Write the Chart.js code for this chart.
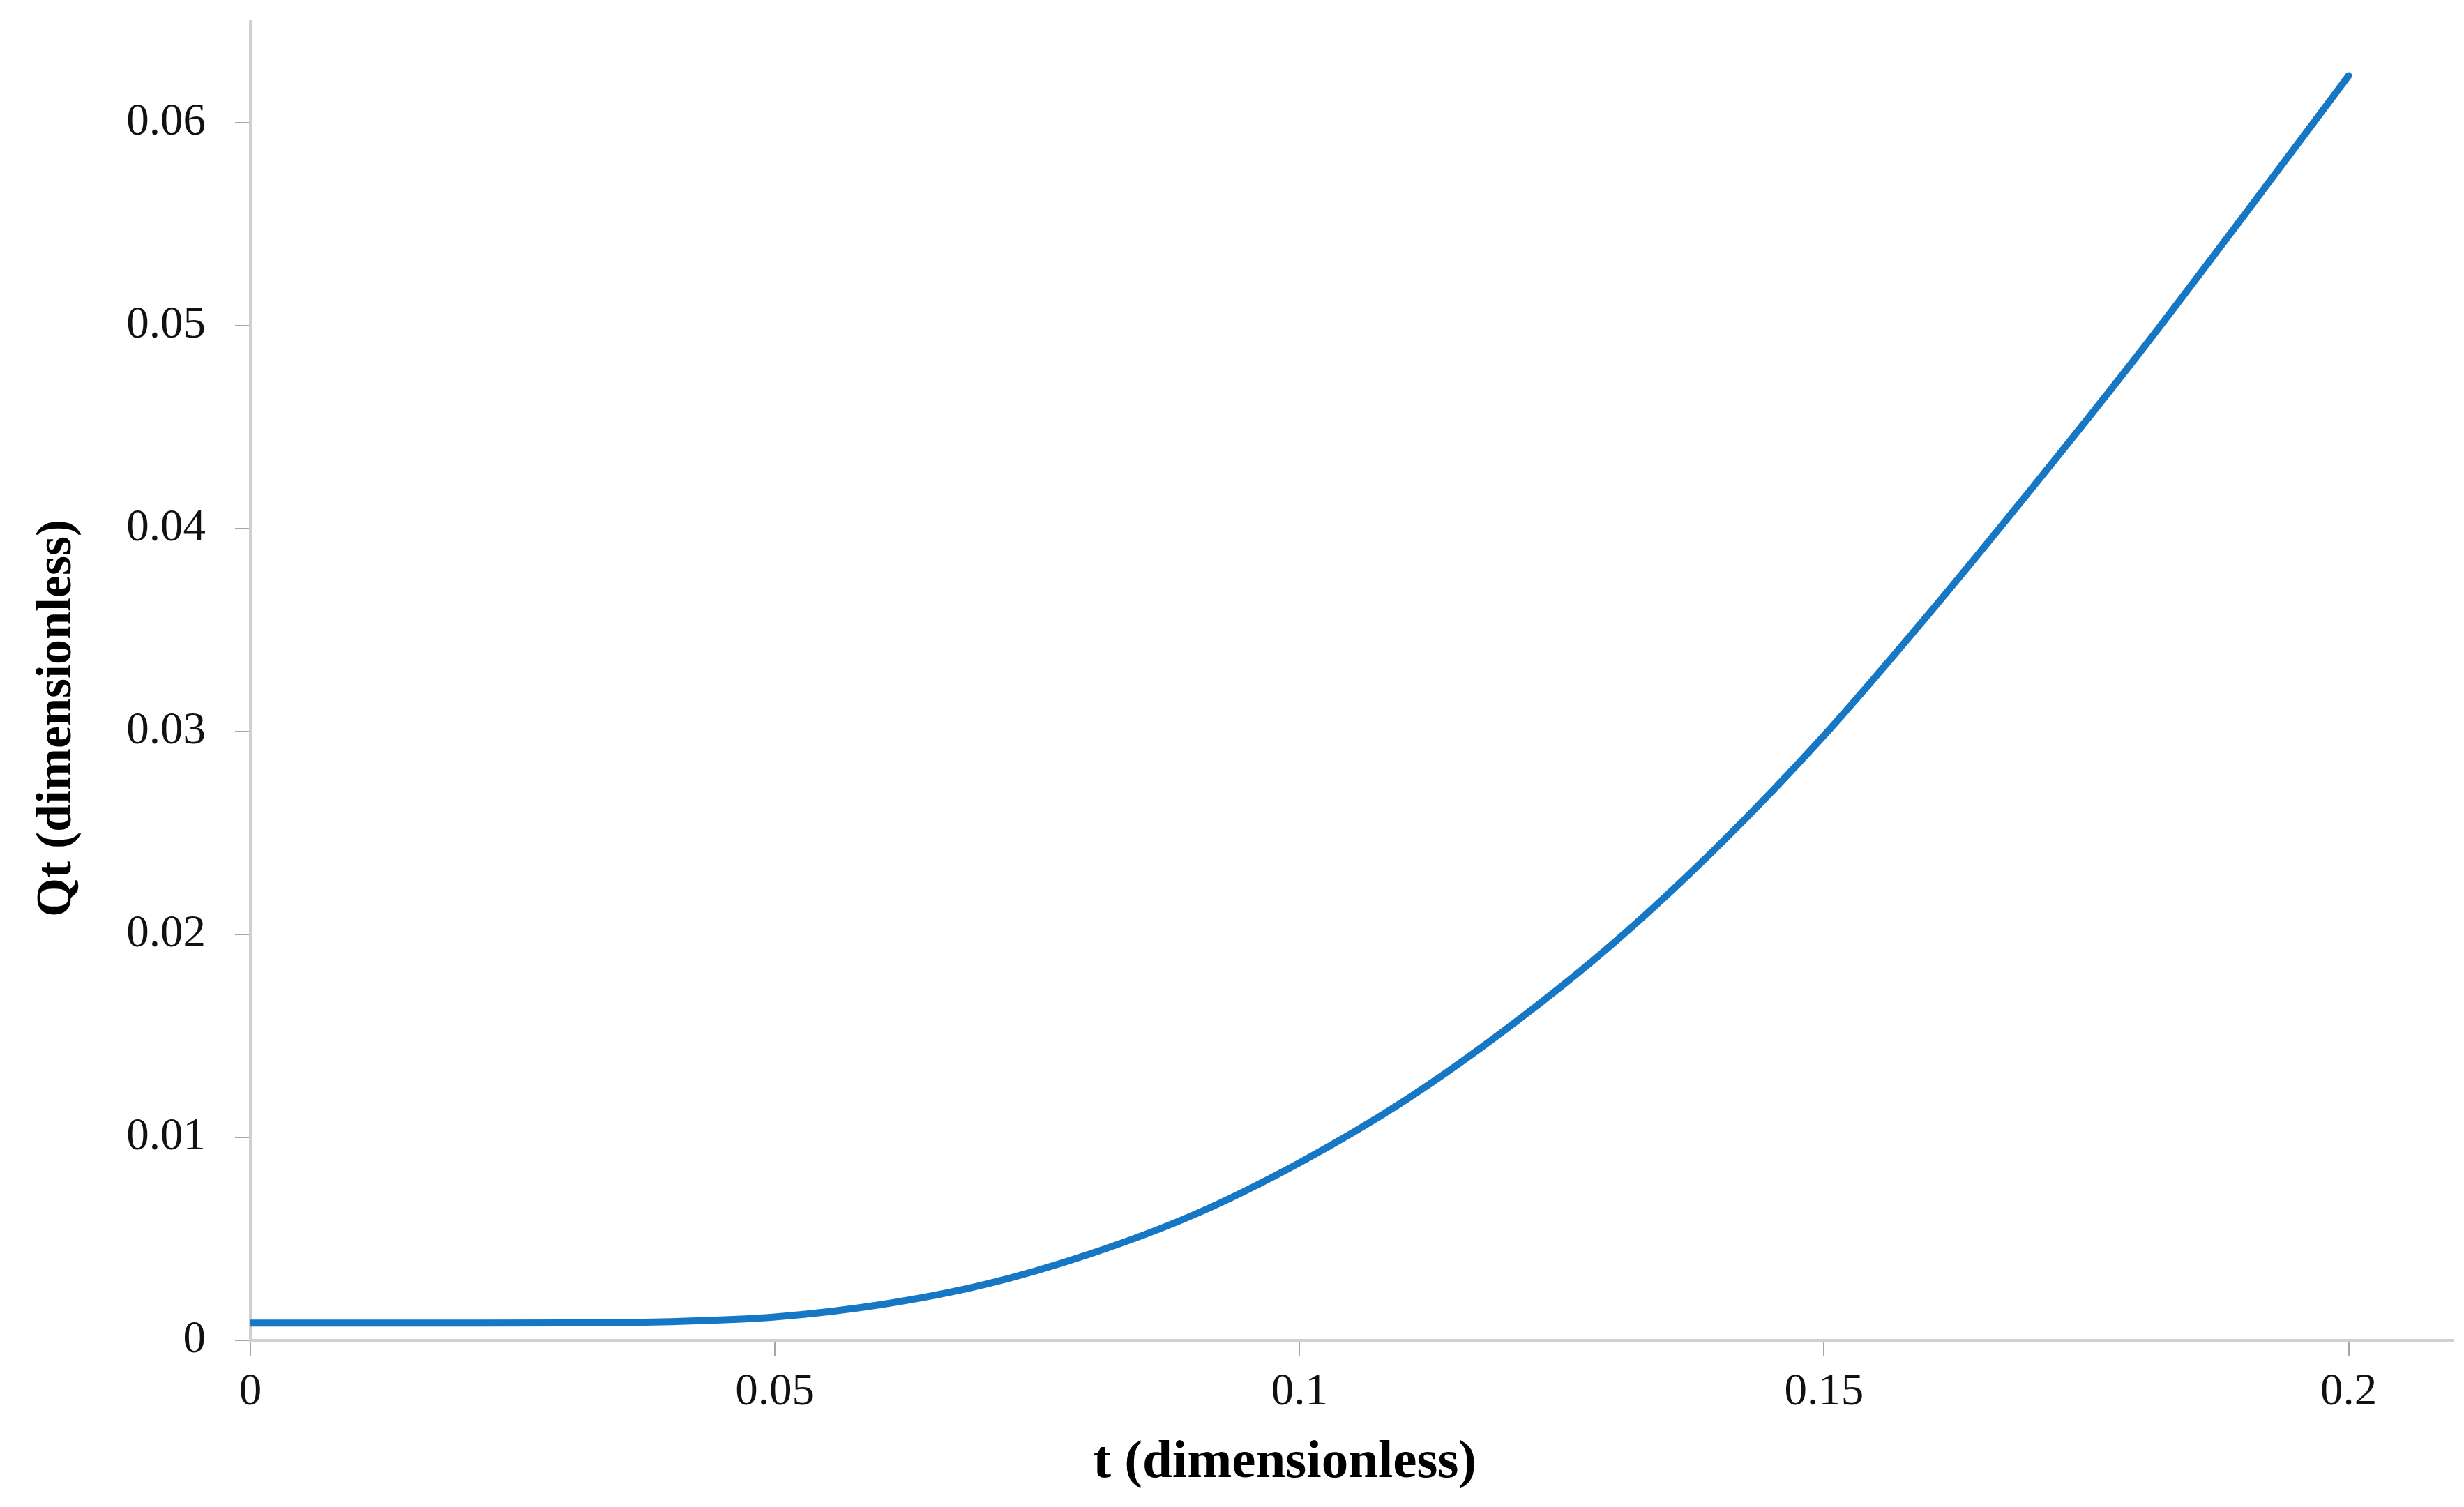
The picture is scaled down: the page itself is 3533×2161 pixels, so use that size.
<!DOCTYPE html>
<html>
<head>
<meta charset="utf-8">
<script src="https://cdn.jsdelivr.net/npm/chart.js@4.4.1/dist/chart.umd.min.js"></script>
<style>
  html, body { margin: 0; padding: 0; background: #fff; }
  canvas { display: block; }
</style>
</head>
<body>
<canvas id="qtChart" width="3533" height="2161"></canvas>
<script>
// dimensionless time and Qt
const tValues = [0, 0.01, 0.02, 0.03, 0.04, 0.05, 0.06, 0.07, 0.08, 0.09, 0.10,
                 0.11, 0.12, 0.13, 0.14, 0.15, 0.16, 0.17, 0.18, 0.19, 0.20];
const qtValues = [0.00085, 0.00085, 0.00085, 0.00086, 0.00092, 0.00115, 0.00175, 0.00275, 0.00425, 0.0062, 0.00875,
                  0.0118, 0.01545, 0.0196, 0.0244, 0.0298, 0.0358, 0.0421, 0.0486, 0.0554, 0.0623];

const xTitle = 't (dimensionless)';
const yTitle = 'Qt (dimensionless)';

const serif = "'Liberation Serif', 'Times New Roman', serif";
const fmt = v => String(parseFloat(Number(v).toFixed(3)));

const ctx = document.getElementById('qtChart').getContext('2d');

new Chart(ctx, {
    type: 'line',
    data: {
        datasets: [{
            data: tValues.map((t, i) => ({ x: t, y: qtValues[i] })),
            borderColor: '#1677c5',
            borderWidth: 10,
            pointRadius: 0,
            fill: false,
            cubicInterpolationMode: 'monotone',
            borderCapStyle: 'round'
        }]
    },
    options: {
        responsive: false,
        animation: false,
        layout: { padding: { top: 30, right: 15, bottom: 0, left: 0 } },
        plugins: { legend: { display: false }, tooltip: { enabled: false } },
        scales: {
            x: {
                type: 'linear',
                min: 0,
                max: 0.21,
                border: { display: true, color: '#d0d0d0', width: 4 },
                grid: { drawOnChartArea: false, drawTicks: true, tickLength: 22, color: '#a6a6a6', lineWidth: 2 },
                ticks: {
                    stepSize: 0.05,
                    includeBounds: false,
                    autoSkip: false,
                    maxRotation: 0,
                    padding: 14,
                    color: '#111',
                    font: { family: serif, size: 65 },
                    callback: fmt
                },
                title: {
                    display: true,
                    // trailing spaces nudge the centred title toward the plotted range
                    text: xTitle + ' '.repeat(10),
                    color: '#000',
                    font: { family: serif, size: 77, weight: 'bold' },
                    padding: { top: 0, bottom: 17 }
                },
                afterFit: s => { s.height = 239; s.paddingLeft = 0; s.paddingRight = 0; }
            },
            y: {
                type: 'linear',
                min: 0,
                max: 0.065,
                border: { display: true, color: '#d0d0d0', width: 4 },
                grid: { drawOnChartArea: false, drawTicks: true, tickLength: 22, color: '#a6a6a6', lineWidth: 2 },
                ticks: {
                    stepSize: 0.01,
                    includeBounds: false,
                    padding: 42,
                    color: '#111',
                    font: { family: serif, size: 65 },
                    callback: fmt
                },
                title: {
                    display: true,
                    text: yTitle + ' '.repeat(6),
                    color: '#000',
                    font: { family: serif, size: 72, weight: 'bold' },
                    padding: { top: 39, bottom: 0 }
                },
                afterFit: s => { s.width = 359; s.paddingTop = 0; s.paddingBottom = 0; }
            }
        }
    }
});
</script>
</body>
</html>
